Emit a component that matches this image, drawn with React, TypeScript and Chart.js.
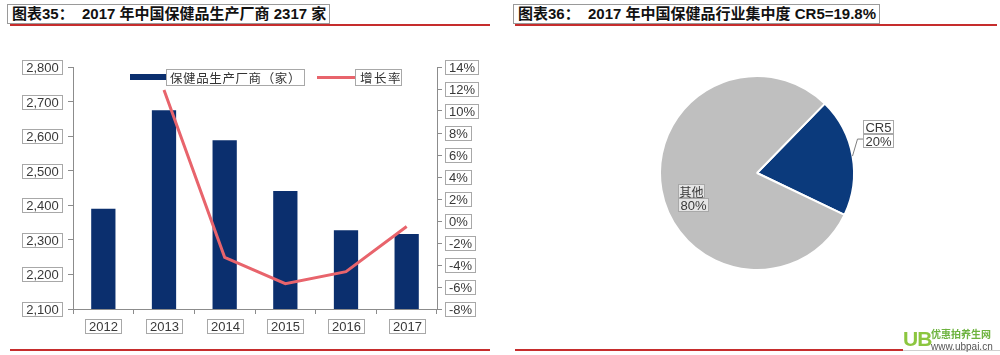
import React, { useEffect, useRef } from 'react';
import { Chart, registerables } from 'chart.js';

Chart.register(...registerables);

// ---------- data ----------
const years = ['2012', '2013', '2014', '2015', '2016', '2017'];
const producers = [2390, 2675, 2588, 2441, 2328, 2317];
const growthRate: (number | null)[] = [null, 11.9, -3.3, -5.7, -4.6, -0.5];
const leftAxis = { min: 2100, max: 2800, step: 100 };
const rightAxis = { min: -8, max: 14, step: 2 };
const barLegend = '保健品生产厂商（家）';
const lineLegend = '增长率';

const pieLabels = ['CR5', '其他'];
const pieValues = [19.8, 80.2];
const pieShown = ['20%', '80%'];

const title1 = '图表35：  2017 年中国保健品生产厂商 2317 家';
const title2 = '图表36：  2017 年中国保健品行业集中度 CR5=19.8%';

// ---------- styles ----------
const NAVY = '#0B2F6E';
const PIE_NAVY = '#0B3A7C';
const GRAY = '#BFBFBF';
const LINE_RED = '#E8646C';
const RULE_RED = '#C62D2D';
const AXIS = '#8C8C8C';
const BOX = '#A8A8A8';
const TXT = '#383838';
const TICK_FONT = '13px "Liberation Sans", Arial, sans-serif';
const CJK = '"Noto Sans CJK SC", "Liberation Sans", sans-serif';

function boxed(ctx: CanvasRenderingContext2D, label: string, x: number, y: number, align: 'left' | 'right' | 'center') {
  const w = ctx.measureText(label).width;
  const bw = Math.round(w + 7);
  const bh = 14;
  let left = x;
  if (align === 'right') left = x - bw;
  if (align === 'center') left = Math.round(x - bw / 2);
  const top = Math.round(y - bh / 2);
  ctx.strokeStyle = BOX;
  ctx.lineWidth = 1;
  ctx.strokeRect(left + 0.5, top + 0.5, bw, bh);
  ctx.fillStyle = TXT;
  ctx.textAlign = 'center';
  ctx.textBaseline = 'middle';
  ctx.fillText(label, left + bw / 2 + 0.5, top + bh / 2 + 1);
}

const tickBoxes = {
  id: 'tickBoxes',
  afterDraw(chart: any) {
    const { ctx, chartArea } = chart;
    const sy = chart.scales.y;
    const sr = chart.scales.y1;
    const sx = chart.scales.x;
    ctx.save();
    ctx.font = TICK_FONT;
    sy.ticks.forEach((t: any, i: number) => {
      boxed(ctx, Number(t.value).toLocaleString('en-US'), chartArea.left - 11, sy.getPixelForTick(i), 'right');
    });
    sr.ticks.forEach((t: any, i: number) => {
      boxed(ctx, `${t.value}%`, chartArea.right + 8, sr.getPixelForTick(i), 'left');
    });
    years.forEach((yr, i) => {
      boxed(ctx, yr, sx.getPixelForValue(i), chartArea.bottom + 17, 'center');
    });
    ctx.restore();
  },
};

const pieLeader = {
  id: 'pieLeader',
  afterDraw(chart: any) {
    const arc = chart.getDatasetMeta(0).data[0];
    if (!arc) return;
    const { x, y, startAngle, endAngle, outerRadius } = arc.getProps(['x', 'y', 'startAngle', 'endAngle', 'outerRadius'], true);
    const mid = (startAngle + endAngle) / 2;
    const px = x + Math.cos(mid) * outerRadius;
    const py = y + Math.sin(mid) * outerRadius;
    const ctx = chart.ctx;
    ctx.save();
    ctx.strokeStyle = '#7F7F7F';
    ctx.lineWidth = 1;
    ctx.beginPath();
    ctx.moveTo(px, py);
    ctx.lineTo(px + 5, py - 17);
    ctx.lineTo(px + 11, py - 17);
    ctx.stroke();
    ctx.restore();
  },
};

function BarLine() {
  const ref = useRef<HTMLCanvasElement>(null);
  useEffect(() => {
    const chart = new Chart(ref.current as HTMLCanvasElement, {
      type: 'bar',
      data: {
        labels: years,
        datasets: [
          {
            type: 'line',
            label: lineLegend,
            data: growthRate,
            yAxisID: 'y1',
            borderColor: LINE_RED,
            borderWidth: 3,
            pointRadius: 0,
            tension: 0,
            order: 0,
          } as any,
          {
            type: 'bar',
            label: barLegend,
            data: producers,
            yAxisID: 'y',
            backgroundColor: NAVY,
            categoryPercentage: 1,
            barPercentage: 0.4,
            order: 1,
          },
        ],
      },
      options: {
        animation: false,
        responsive: true,
        maintainAspectRatio: false,
        layout: { padding: { left: 0, right: 0, top: 67, bottom: 0 } },
        plugins: { legend: { display: false }, tooltip: { enabled: false } },
        scales: {
          x: {
            ticks: { display: false },
            grid: { drawOnChartArea: false, tickLength: 5, color: AXIS, offset: true },
            border: { color: AXIS },
            afterFit: (s: any) => { s.height = 46; },
          },
          y: {
            position: 'left',
            min: leftAxis.min,
            max: leftAxis.max,
            ticks: { display: false, stepSize: leftAxis.step },
            grid: { drawOnChartArea: false, tickLength: 5, color: AXIS },
            border: { color: AXIS },
            afterFit: (s: any) => { s.width = 73; },
          },
          y1: {
            position: 'right',
            min: rightAxis.min,
            max: rightAxis.max,
            ticks: { display: false, stepSize: rightAxis.step },
            grid: { drawOnChartArea: false, tickLength: 5, color: AXIS },
            border: { color: AXIS },
            afterFit: (s: any) => { s.width = 63; },
          },
        },
      } as any,
      plugins: [tickBoxes],
    });
    return () => chart.destroy();
  }, []);
  return <canvas ref={ref} />;
}

function Pie() {
  const ref = useRef<HTMLCanvasElement>(null);
  useEffect(() => {
    const chart = new Chart(ref.current as HTMLCanvasElement, {
      type: 'pie',
      data: {
        labels: pieLabels,
        datasets: [
          {
            data: pieValues,
            backgroundColor: [PIE_NAVY, GRAY],
            borderColor: '#FFFFFF',
            borderWidth: 2,
          },
        ],
      },
      options: {
        animation: false,
        responsive: true,
        maintainAspectRatio: false,
        rotation: 44.3,
        radius: 97,
        layout: { padding: { left: 160, right: 146, top: 46, bottom: 60 } },
        plugins: { legend: { display: false }, tooltip: { enabled: false } },
      } as any,
      plugins: [pieLeader],
    });
    return () => chart.destroy();
  }, []);
  return <canvas ref={ref} />;
}

const abs = (l: number, t: number, extra: React.CSSProperties = {}): React.CSSProperties => ({
  position: 'absolute',
  left: l,
  top: t,
  ...extra,
});

const tickBox = (l: number, t: number, w: number, text: string, cjk = false) => (
  <div
    style={abs(l, t, {
      width: w,
      height: 14,
      border: `1px solid ${BOX}`,
      boxSizing: 'border-box',
      font: cjk ? `12px ${CJK}` : TICK_FONT,
      lineHeight: '13px',
      color: TXT,
      textAlign: 'center',
      whiteSpace: 'nowrap',
      background: 'rgba(255,255,255,0.6)',
    })}
  >
    {text}
  </div>
);

export default function App() {
  useEffect(() => {
    document.body.style.margin = '0';
    document.body.style.background = '#FFFFFF';
  }, []);
  const titleStyle: React.CSSProperties = {
    height: 20,
    border: '1px solid #9A9A9A',
    boxSizing: 'border-box',
    font: `bold 15px "Liberation Sans", ${CJK}`,
    lineHeight: '18px',
    color: '#111',
    whiteSpace: 'pre',
    paddingLeft: 4,
  };
  return (
    <div style={{ position: 'relative', width: 1000, height: 355, overflow: 'hidden', background: '#fff' }}>
      {/* titles */}
      <div style={abs(7, 4, { ...titleStyle, width: 323 })}>{title1}</div>
      <div style={abs(10, 24, { width: 480, height: 2, background: RULE_RED })} />
      <div style={abs(513, 4, { ...titleStyle, width: 367 })}>{title2}</div>
      <div style={abs(515, 24, { width: 482, height: 2, background: RULE_RED })} />

      {/* left chart */}
      <div style={abs(0, 0, { width: 500, height: 355 })}>
        <BarLine />
      </div>
      {/* legend */}
      <div style={abs(130, 74, { width: 36, height: 6, background: NAVY })} />
      <div
        style={abs(166, 69, {
          width: 139,
          height: 17,
          border: `1px solid ${BOX}`,
          boxSizing: 'border-box',
          font: `12.5px ${CJK}`,
          lineHeight: '15px',
          color: '#333',
          letterSpacing: '0.6px',
          paddingLeft: 3,
          whiteSpace: 'nowrap',
          background: '#fff',
        })}
      >
        {barLegend}
      </div>
      <div style={abs(317, 76, { width: 38, height: 3, background: LINE_RED })} />
      <div
        style={abs(355, 69, {
          width: 47,
          height: 17,
          border: `1px solid ${BOX}`,
          boxSizing: 'border-box',
          font: `12.5px ${CJK}`,
          lineHeight: '15px',
          color: '#333',
          letterSpacing: '1.5px',
          paddingLeft: 4,
          whiteSpace: 'nowrap',
          background: '#fff',
        })}
      >
        {lineLegend}
      </div>

      {/* right chart */}
      <div style={abs(500, 30, { width: 500, height: 300 })}>
        <Pie />
      </div>
      {tickBox(863, 120, 31, pieLabels[0])}
      {tickBox(863, 134, 31, pieShown[0])}
      {tickBox(678, 184, 27, pieLabels[1], true)}
      {tickBox(678, 198, 31, pieShown[1])}

      {/* bottom rules */}
      <div style={abs(10, 349, { width: 480, height: 2, background: RULE_RED })} />
      <div style={abs(515, 349, { width: 388, height: 2, background: RULE_RED })} />
      <div style={abs(903, 350, { width: 97, height: 1, background: '#CFCFCF' })} />

      {/* watermark */}
      <div style={abs(903, 327, { font: 'bold 21px "Liberation Sans", sans-serif', color: '#8CC63F', lineHeight: '24px', letterSpacing: '-1px' })}>UB</div>
      <div style={abs(931, 328, { font: `bold 10px ${CJK}`, color: '#6DB33F', lineHeight: '12px', whiteSpace: 'nowrap' })}>优惠拍养生网</div>
      <div style={abs(931, 341, { font: '10px "Liberation Sans", sans-serif', color: '#555', lineHeight: '11px', whiteSpace: 'nowrap' })}>www.ubpai.cn</div>
    </div>
  );
}
